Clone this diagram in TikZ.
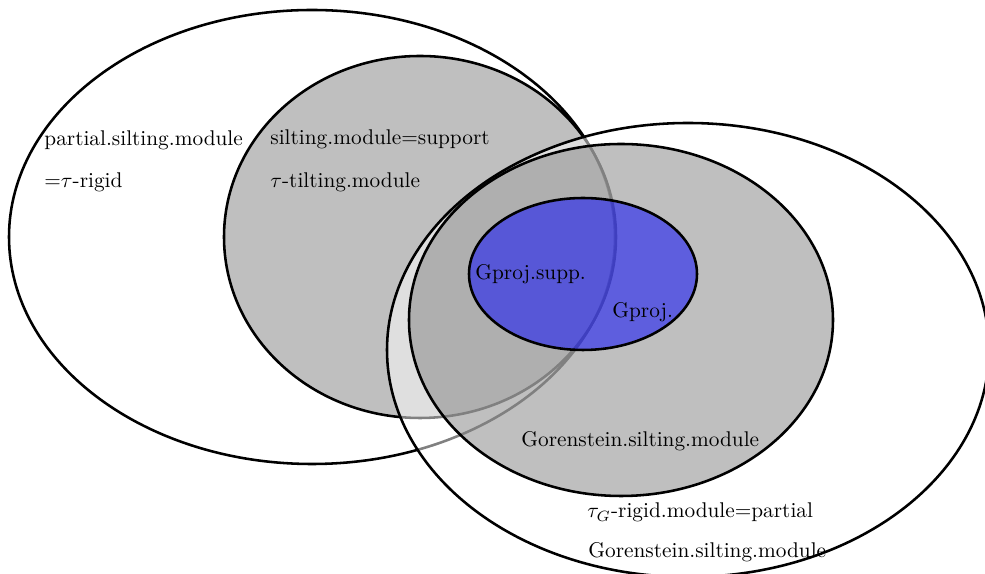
\documentclass[tikz,border=0pt]{standalone}
\begin{document}
\begin{tikzpicture}[x=0.4695pt,y=-0.4695pt,
  ring/.style={draw=black,line width=1.2pt},
  lbl/.style={anchor=base west,inner sep=0pt,font=\normalsize}]
\useasboundingbox (0,0) rectangle (985,574);
% big left ellipse
\draw[ring] (312,237) ellipse [x radius=303,y radius=227];
% gray left ellipse
\draw[ring,fill=gray,fill opacity=0.5] (420,237) ellipse [x radius=196,y radius=181];
% big right ellipse (white veil)
\draw[ring,fill=white,fill opacity=0.5] (688,350) ellipse [x radius=301,y radius=227];
% gray right ellipse
\draw[ring,fill=gray,fill opacity=0.5] (621,320) ellipse [x radius=212,y radius=176];
% blue ellipse
\draw[ring,fill=blue,fill opacity=0.5] (583,274) ellipse [x radius=114,y radius=76];
% labels
\node[lbl] (t1) at (44,146) {partial.silting.module};
\node[lbl] (t2) at (44,188) {=$\tau$-rigid};
\node[lbl] (t3) at (270,145) {silting.module=support};
\node[lbl] (t4) at (270,188) {$\tau$-tilting.module};
\node[lbl] (t5) at (475,280) {Gproj.supp.};
\node[lbl] (t6) at (612,318) {Gproj.};
\node[lbl] (t7) at (521,447) {Gorenstein.silting.module};
\node[lbl] (t8) at (587,518) {$\tau_G$-rigid.module=partial};
\node[lbl] (t9) at (588,558) {Gorenstein.silting.module};
\end{tikzpicture}
\end{document}
